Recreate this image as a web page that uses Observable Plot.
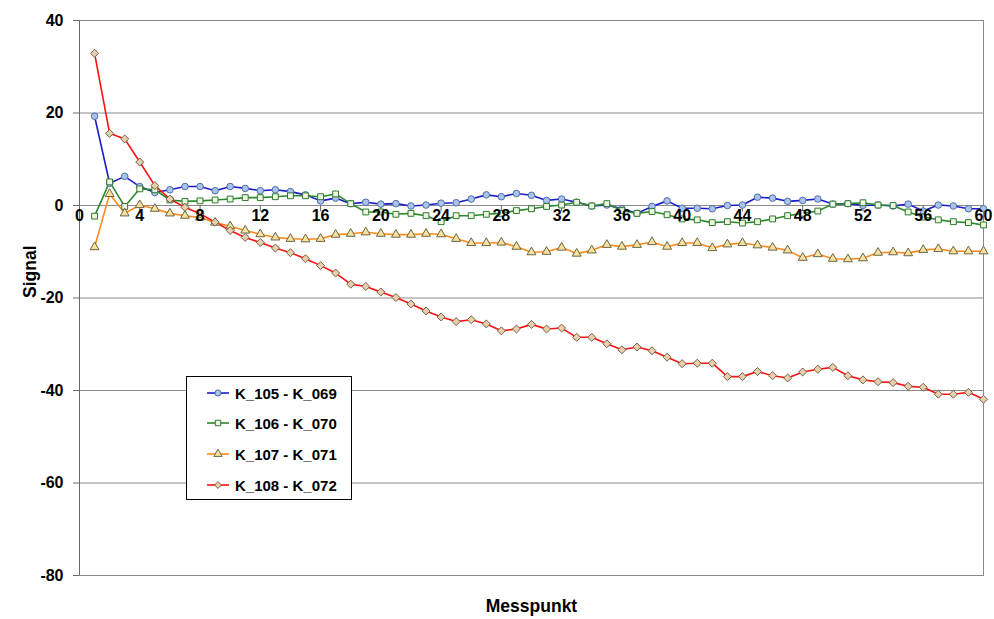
<!DOCTYPE html>
<html>
<head>
<meta charset="utf-8">
<script src="https://cdn.jsdelivr.net/npm/d3@7"></script>
<script src="https://cdn.jsdelivr.net/npm/@observablehq/plot@0.6"></script>
<style>
  html, body { margin: 0; padding: 0; background: #fff; }
  #wrap { position: relative; width: 994px; height: 619px; font-family: "Liberation Sans", Arial, sans-serif; }
  #legend { position: absolute; left: 186px; top: 376px; width: 166px; height: 124px; background: #fff; border: 1px solid #000; box-sizing: border-box; }
  .row { position: absolute; left: 19px; height: 20px; display: flex; align-items: center; font-weight: bold; font-size: 15px; color: #000; white-space: nowrap; }
  .row svg { margin-right: 5px; }
</style>
</head>
<body>
<div id="wrap"></div>
<script>
const seriesNames = ["K_105 - K_069", "K_106 - K_070", "K_107 - K_071", "K_108 - K_072"];
const messpunkt = d3.range(1, 61);
const k105 = [19.3, 4.8, 6.3, 4.1, 2.8, 3.4, 4.1, 4.1, 3.2, 4.1, 3.7, 3.2, 3.4, 3.0, 2.3, 1.0, 1.6, 0.4, 0.7, 0.3,
  0.4, -0.1, 0.1, 0.5, 0.6, 1.4, 2.3, 1.9, 2.6, 2.2, 1.1, 1.4, 0.7, -0.1, 0.1, -0.7, -1.7, -0.2, 1.0, -0.6,
  -0.6, -0.7, 0.0, 0.1, 1.8, 1.6, 0.9, 1.1, 1.4, 0.3, 0.4, 0.0, 0.1, -0.1, 0.3, -1.2, 0.1, -0.1, -0.7, -0.7];
const k106 = [-2.3, 5.1, -0.2, 3.6, 3.4, 1.2, 0.9, 1.0, 1.2, 1.4, 1.7, 1.7, 1.9, 2.1, 2.1, 1.9, 2.5, 0.4, -1.4, -1.4,
  -1.9, -1.7, -2.2, -3.5, -2.2, -2.2, -1.9, -1.7, -1.1, -0.7, -0.2, 0.1, 0.7, -0.1, 0.4, -1.1, -1.7, -1.3, -2.0, -2.9,
  -3.1, -3.7, -3.5, -3.8, -3.5, -2.9, -2.2, -1.7, -1.2, 0.3, 0.4, 0.6, 0.1, 0.0, -1.4, -2.5, -3.1, -3.5, -3.7, -4.2];
const k107 = [-9.0, 2.5, -1.7, 0.1, -0.7, -1.7, -2.2, -2.6, -3.7, -4.5, -5.4, -6.2, -6.9, -7.2, -7.3, -7.2, -6.3, -6.1, -5.8, -6.1,
  -6.3, -6.3, -6.1, -6.2, -7.2, -8.1, -8.1, -8.0, -8.9, -10.1, -10.0, -9.1, -10.4, -9.7, -8.5, -8.9, -8.5, -7.9, -8.9, -8.1,
  -8.1, -9.2, -8.4, -8.1, -8.6, -9.1, -9.7, -11.3, -10.5, -11.5, -11.6, -11.4, -10.2, -10.1, -10.3, -9.6, -9.4, -9.9, -9.9, -9.9];
const k108 = [32.9, 15.6, 14.4, 9.4, 4.3, 1.4, -0.4, -1.8, -3.6, -5.4, -6.9, -8.0, -9.2, -10.2, -11.5, -13.0, -14.6, -17.0, -17.5, -18.7,
  -19.9, -21.3, -22.8, -24.1, -25.1, -24.7, -25.6, -27.1, -26.7, -25.7, -26.7, -26.5, -28.5, -28.5, -29.9, -31.2, -30.6, -31.4, -32.8, -34.2,
  -34.1, -34.1, -37.0, -37.0, -35.9, -36.8, -37.3, -36.0, -35.4, -35.0, -36.8, -37.7, -38.1, -38.3, -39.1, -39.3, -40.8, -40.8, -40.4, -41.9];
const xTicks = d3.range(0, 61, 4);
const yTicks = [40, 20, 0, -20, -40, -60, -80];

const lineColors = ["#1c1ccc", "#2a8a2a", "#ff8a1a", "#ff1010"];
const markerFill = ["#a9c3ea", "#eef6e2", "#f4e3a0", "#e6cfae"];
const markerStroke = ["#4f6ea8", "#2f7a2f", "#6e6440", "#7a5e42"];
const symbols = ["circle", "square", "triangle", "diamond2"];

const allValues = [k105, k106, k107, k108];
const rows = [];
allValues.forEach((vals, s) => vals.forEach((v, i) => rows.push({series: seriesNames[s], s, x: messpunkt[i], y: v})));

const font = "Liberation Sans, Arial, sans-serif";
const marks = [
  Plot.gridY(yTicks, {stroke: "#8a8a8a", strokeOpacity: 1, strokeWidth: 1}),
  Plot.frame({stroke: "#8a8a8a"}),
  Plot.ruleX([0], {stroke: "#6a6a6a"}),
  Plot.axisY(yTicks, {tickSize: 6, tickPadding: 10, fontSize: 16, fontWeight: "bold", label: null, stroke: "#6a6a6a", tickFormat: d => String(d)}),
  Plot.ruleX(xTicks, {x: d => d, y1: 0, y2: -1.35, stroke: "#6a6a6a"}),
  Plot.text(["Signal"], {frameAnchor: "left", dx: -49, rotate: -90, fontSize: 17.5, fontWeight: "bold", fill: "#000"}),
  Plot.text(["Messpunkt"], {frameAnchor: "bottom", dy: 36, fontSize: 17.5, fontWeight: "bold", fill: "#000"})
];
for (let s = 0; s < 4; s++) {
  const data = rows.filter(d => d.s === s);
  marks.push(Plot.line(data, {x: "x", y: "y", stroke: lineColors[s], strokeWidth: 1.6}));
}
for (let s = 0; s < 4; s++) {
  const data = rows.filter(d => d.s === s);
  marks.push(Plot.dot(data, {x: "x", y: "y", symbol: () => symbols[s], r: s === 3 ? 3.6 : 3.3, fill: markerFill[s], stroke: markerStroke[s], strokeWidth: 1}));
}
marks.push(Plot.text(xTicks, {x: d => d, y: 0, dy: 10, text: d => String(d), fontSize: 16, fontWeight: "bold", fill: "#000"}));

const chart = Plot.plot({
  width: 994,
  height: 619,
  marginLeft: 79,
  marginRight: 11,
  marginTop: 20,
  marginBottom: 44,
  style: {fontFamily: font, background: "#fff", color: "#000"},
  x: {domain: [0, 60], axis: null},
  y: {domain: [-80, 40], axis: null},
  symbol: {type: "identity"},
  marks
});
const wrap = document.getElementById("wrap");
wrap.appendChild(chart);

// Legend
const legend = document.createElement("div");
legend.id = "legend";
const tops = [6, 36, 67, 98];
seriesNames.forEach((name, s) => {
  const row = document.createElement("div");
  row.className = "row";
  row.style.top = tops[s] + "px";
  const svg = d3.create("svg").attr("width", 24).attr("height", 12);
  svg.append("line").attr("x1", 1).attr("x2", 23).attr("y1", 6).attr("y2", 6).attr("stroke", lineColors[s]).attr("stroke-width", 1.6);
  const sym = [d3.symbolCircle, d3.symbolSquare, d3.symbolTriangle, d3.symbolDiamond2][s];
  svg.append("path").attr("transform", "translate(12,6)").attr("d", d3.symbol(sym, 30)())
    .attr("fill", markerFill[s]).attr("stroke", markerStroke[s]);
  row.appendChild(svg.node());
  const t = document.createElement("span");
  t.textContent = name;
  row.appendChild(t);
  legend.appendChild(row);
});
wrap.appendChild(legend);
</script>
</body>
</html>
